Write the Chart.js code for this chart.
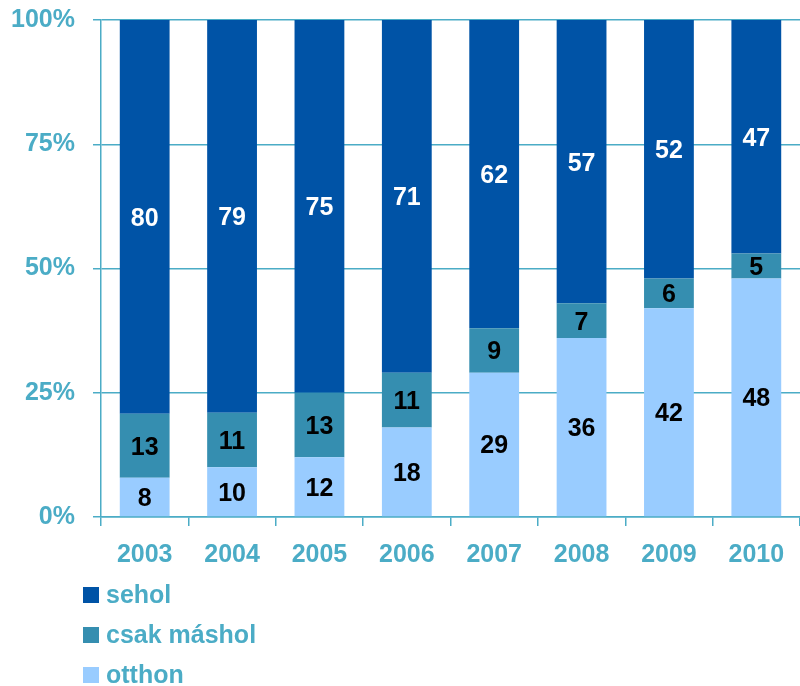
<!DOCTYPE html>
<html>
<head>
<meta charset="utf-8">
<script src="https://cdn.jsdelivr.net/npm/chart.js@4.4.1/dist/chart.umd.min.js"></script>
<style>
  html, body { margin: 0; padding: 0; background: #fff; }
  #wrap { width: 800px; height: 686px; position: relative; }
</style>
</head>
<body>
<div id="wrap"><canvas id="bars"></canvas></div>
<script>
const years = ['2003', '2004', '2005', '2006', '2007', '2008', '2009', '2010'];
const otthon = [8, 10, 12, 18, 29, 36, 42, 48];
const csakMashol = [13, 11, 13, 11, 9, 7, 6, 5];
const sehol = [80, 79, 75, 71, 62, 57, 52, 47];
const yTicks = [0, 25, 50, 75, 100];

const axisBlue = '#4BACC6';
const font = { family: 'Liberation Sans, Arial, sans-serif', size: 25, weight: 'bold' };

// each column is shown as a share of its own total
const totals = years.map((y, i) => otthon[i] + csakMashol[i] + sehol[i]);
const share = arr => arr.map((v, i) => v / totals[i] * 100);

const series = [
  { label: 'otthon', raw: otthon, color: '#99CCFF', text: '#000' },
  { label: 'csak máshol', raw: csakMashol, color: '#358EB0', text: '#000' },
  { label: 'sehol', raw: sehol, color: '#0053A6', text: '#fff' }
];

// numbers in the middle of each segment
const segmentLabels = {
  id: 'segmentLabels',
  afterDatasetsDraw(chart) {
    const ctx = chart.ctx;
    ctx.save();
    ctx.font = `bold ${font.size}px ${font.family}`;
    ctx.textAlign = 'center';
    ctx.textBaseline = 'middle';
    chart.data.datasets.forEach((ds, di) => {
      chart.getDatasetMeta(di).data.forEach((bar, i) => {
        ctx.fillStyle = ds.textColor;
        ctx.fillText(String(ds.raw[i]), bar.x, (bar.y + bar.base) / 2 + 2);
      });
    });
    ctx.restore();
  }
};

// vertical legend under the axis, top series first
const stackedLegend = {
  id: 'stackedLegend',
  afterDraw(chart) {
    const ctx = chart.ctx;
    ctx.save();
    ctx.font = `bold ${font.size}px ${font.family}`;
    ctx.textBaseline = 'middle';
    const list = chart.data.datasets.slice().reverse();
    list.forEach((ds, k) => {
      const y = 595 + k * 40;
      ctx.fillStyle = ds.backgroundColor;
      ctx.fillRect(83, y - 8, 16, 16);
      ctx.fillStyle = axisBlue;
      ctx.fillText(ds.label, 106, y + 1);
    });
    ctx.restore();
  }
};

new Chart(document.getElementById('bars'), {
  type: 'bar',
  data: {
    labels: years,
    datasets: series.map(s => ({
      label: s.label,
      data: share(s.raw),
      raw: s.raw,
      textColor: s.text,
      backgroundColor: s.color,
      borderWidth: 0,
      categoryPercentage: 1,
      barPercentage: 0.57
    }))
  },
  options: {
    responsive: true,
    maintainAspectRatio: false,
    animation: false,
    layout: { padding: { left: 12, top: 20, right: 0, bottom: 102 } },
    plugins: {
      legend: { display: false },
      tooltip: { enabled: false }
    },
    scales: {
      x: {
        stacked: true,
        grid: { drawOnChartArea: false, drawTicks: true, tickLength: 9, color: axisBlue, lineWidth: 1.5, offset: true },
        border: { color: axisBlue, width: 1.5 },
        ticks: { color: axisBlue, font: font, padding: 14 }
      },
      y: {
        stacked: true,
        min: 0,
        max: 100,
        afterBuildTicks: axis => { axis.ticks = yTicks.map(v => ({ value: v })); },
        afterFit: axis => {
          axis.width = 89;
          axis.paddingTop = 0;
          axis.paddingBottom = 0;
        },
        grid: { color: axisBlue, lineWidth: 1.5, tickLength: 8 },
        border: { color: axisBlue, width: 1.5 },
        ticks: { color: axisBlue, font: font, padding: 18, callback: v => v + '%' }
      }
    }
  },
  plugins: [segmentLabels, stackedLegend]
});
</script>
</body>
</html>
